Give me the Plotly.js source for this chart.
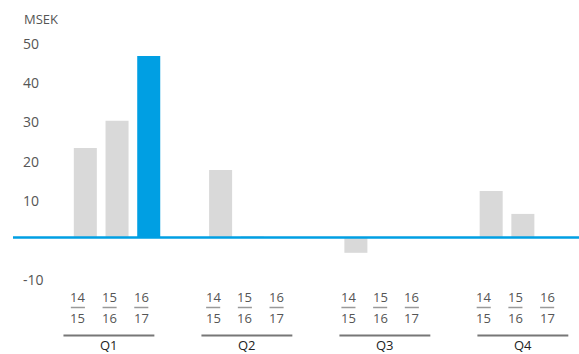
<!DOCTYPE html>
<html>
<head>
<meta charset="utf-8">
<script src="https://cdn.plot.ly/plotly-3.0.1.min.js"></script>
<style>html,body{margin:0;padding:0;background:#fff;}#chart{width:579px;height:354px;}</style>
</head>
<body>
<div id="chart"></div>
<script>
// ---- data ----
const quarters = ['Q1', 'Q2', 'Q3', 'Q4'];
const seasons = ['14/15', '15/16', '16/17'];
const v1415 = [22.8, 17.2, -3.9, 11.8];
const v1516 = [29.7, 0.3, 0, 6.0];
const v1617 = [46.2, 0, 0, 0];
const yTicks = [-10, 0, 10, 20, 30, 40, 50];
const yTickLabels = ['-10', '', '10', '20', '30', '40', '50'];
const unitLabel = 'MSEK';
const highlightSeason = '16/17';
const highlightQuarter = 'Q1';

// ---- styling / layout constants ----
const GRAY = '#d9d9d9', BLUE = '#009fe3';
const W = 579, H = 354;
const mL = 13, mR = 0, mT = 0, mB = 64;
const plotW = W - mL - mR, plotH = H - mT - mB;
const xRange = [-0.769, 3.415];
const yRange = [-13.36, 60.43];
const bargap = 0.297, bargroupgap = 0.274;
const slot = (1 - bargap) / seasons.length;

const series = [v1415, v1516, v1617];
const traces = seasons.map((s, j) => ({
  type: 'bar',
  name: s,
  x: quarters.map((q, g) => g),
  y: series[j],
  marker: {color: quarters.map(q => (s === highlightSeason && q === highlightQuarter) ? BLUE : GRAY), line: {width: 0}},
  hoverinfo: 'skip'
}));

const toPX = xd => (xd - xRange[0]) / (xRange[1] - xRange[0]);   // data x -> paper
const pyToPaper = py => (H - mB - py) / plotH;                    // pixel y -> paper

const annotations = [];
const shapes = [];
const labelOffset = -0.055;
const fracHalf = 0.052;
quarters.forEach((q, g) => {
  seasons.forEach((s, j) => {
    const [num, den] = s.split('/');
    const xc = g + (j - 1) * slot + labelOffset;
    annotations.push({xref: 'paper', yref: 'paper', x: toPX(xc), y: pyToPaper(297), text: num,
      showarrow: false, xanchor: 'center', yanchor: 'middle', font: {family: 'Open Sans', size: 13, color: '#555'}});
    annotations.push({xref: 'paper', yref: 'paper', x: toPX(xc), y: pyToPaper(318), text: den,
      showarrow: false, xanchor: 'center', yanchor: 'middle', font: {family: 'Open Sans', size: 13, color: '#555'}});
    shapes.push({type: 'line', xref: 'paper', yref: 'paper', x0: toPX(xc - fracHalf), x1: toPX(xc + fracHalf),
      y0: pyToPaper(307.5), y1: pyToPaper(307.5), line: {color: '#999', width: 1.5}});
  });
  const gc = g * 1.02 - 0.06;
  shapes.push({type: 'line', xref: 'paper', yref: 'paper', x0: toPX(gc - 0.336), x1: toPX(gc + 0.336),
    y0: pyToPaper(335.5), y1: pyToPaper(335.5), line: {color: '#777', width: 2}});
  annotations.push({xref: 'paper', yref: 'paper', x: toPX(gc), y: pyToPaper(345), text: q,
    showarrow: false, xanchor: 'center', yanchor: 'middle', font: {family: 'Open Sans', size: 13, color: '#222'}});
});
annotations.push({xref: 'paper', yref: 'paper', x: (22 - mL) / plotW, y: pyToPaper(19), text: unitLabel,
  showarrow: false, xanchor: 'left', yanchor: 'middle', font: {family: 'Open Sans', size: 13, color: '#555'}});
// zero line
shapes.push({type: 'line', xref: 'paper', yref: 'y', x0: 0, x1: 1, y0: 0, y1: 0, line: {color: BLUE, width: 2.5}});

const layout = {
  width: W, height: H,
  margin: {l: mL, r: mR, t: mT, b: mB, pad: 0},
  paper_bgcolor: '#fff', plot_bgcolor: '#fff',
  showlegend: false,
  barmode: 'group', bargap: bargap, bargroupgap: bargroupgap,
  xaxis: {range: xRange, showgrid: false, zeroline: false, showticklabels: false, ticks: '', showline: false, fixedrange: true},
  yaxis: {range: yRange, tickvals: yTicks, ticktext: yTickLabels, ticklabelposition: 'inside', ticklabelstandoff: 7,
    ticklabelshift: 3, showgrid: false, zeroline: false, ticks: '', showline: false,
    tickfont: {family: 'Open Sans', size: 14, color: '#555'}, fixedrange: true},
  annotations: annotations,
  shapes: shapes
};
Plotly.newPlot('chart', traces, layout, {displayModeBar: false, staticPlot: true});
</script>
</body>
</html>
